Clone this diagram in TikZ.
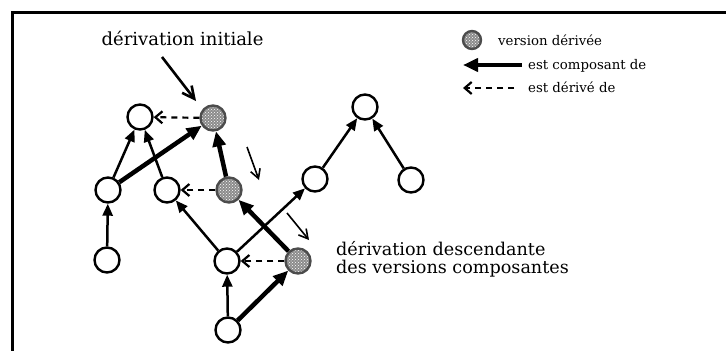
\documentclass[tikz,border=0pt]{standalone}
\usepackage{fontspec}
\setmainfont{DejaVu Serif}
\usepackage{tikz}
\usetikzlibrary{arrows.meta,patterns}

\begin{document}
\begin{tikzpicture}[x=1pt,y=-1pt,
  ver/.style={circle,draw,line width=2.4pt,fill=white,minimum size=25pt,inner sep=0pt},
  derivee/.style={circle,draw=black!70,line width=2.4pt,minimum size=25pt,inner sep=0pt,
    preaction={fill=black!45},pattern=crosshatch dots,pattern color=white},
  compo/.style={line width=2.5pt,-{Triangle[length=12pt,width=10pt]}},
  compofort/.style={line width=4.5pt,-{Triangle[length=15pt,width=13pt]}},
  deriv/.style={line width=2.2pt,dash pattern=on 6pt off 5pt,-{Straight Barb[length=7pt,width=12pt]}},
  fleche/.style={line width=1.6pt,-{Straight Barb[length=9pt,width=10pt]}},
  grand/.style={inner sep=0pt,font=\fontsize{17.6}{18}\selectfont},
  petit/.style={inner sep=0pt,anchor=base west,font=\fontsize{13.3}{16}\selectfont}]
  \useasboundingbox (0,0) rectangle (726,351);
  \draw[line width=3pt] (726,12.5) -- (12.5,12.5) -- (12.5,351);

  \node[ver] (a) at (140,117) {};
  \node[derivee] (d1) at (213,118) {};
  \node[ver] (b) at (108,190) {};
  \node[ver] (c) at (167,190) {};
  \node[derivee] (d2) at (229,190) {};
  \node[ver] (e) at (315,179) {};
  \node[ver] (i) at (365,107) {};
  \node[ver] (j) at (411,180) {};
  \node[ver] (f) at (107,260) {};
  \node[ver] (g) at (227,261) {};
  \node[derivee] (d3) at (298,261) {};
  \node[ver] (h) at (228,330) {};

  \foreach \u/\v in {b/a,c/a,f/b,g/c,g/e,h/g,e/i,j/i} \draw[compo] (\u) -- (\v);
  \foreach \u/\v in {b/d1,d2/d1,d3/d2,h/d3} \draw[compofort] (\u) -- (\v);
  \foreach \u/\v in {d1/a,d2/c,d3/g} \draw[deriv] (\u) -- (\v);

  \node[grand,font=\fontsize{18}{18}\selectfont,anchor=base] (init) at (182.5,45) {dérivation initiale};
  \coordinate (ini0) at (162,57);
  \coordinate (ini1) at (196,101);
  \draw[fleche,line width=2.6pt,-{Straight Barb[length=12pt,width=12pt]}] (ini0) -- (ini1);
  \coordinate (fl0) at (247,147);
  \coordinate (fl1) at (259,180);
  \draw[fleche] (fl0) -- (fl1);
  \coordinate (fl2) at (287,213);
  \coordinate (fl3) at (309,240);
  \draw[fleche] (fl2) -- (fl3);
  \node[grand,anchor=base west,align=left] (desc) at (336,273) {dérivation descendante\\des versions composantes};

  \node[derivee,minimum size=18pt] (leg) at (472,40) {};
  \node[petit] (lv) at (498,45) {version dérivée};
  \node[petit] (lc) at (528,69) {est composant de};
  \node[petit] (ld) at (528,92) {est dérivé de};
  \coordinate (lc0) at (522,65);
  \coordinate (lc1) at (463,65);
  \draw[line width=4pt,-{Triangle[length=15pt,width=13pt]}] (lc0) -- (lc1);
  \coordinate (ld0) at (514,88);
  \coordinate (ld1) at (463,88);
  \draw[deriv] (ld0) -- (ld1);
\end{tikzpicture}
\end{document}
